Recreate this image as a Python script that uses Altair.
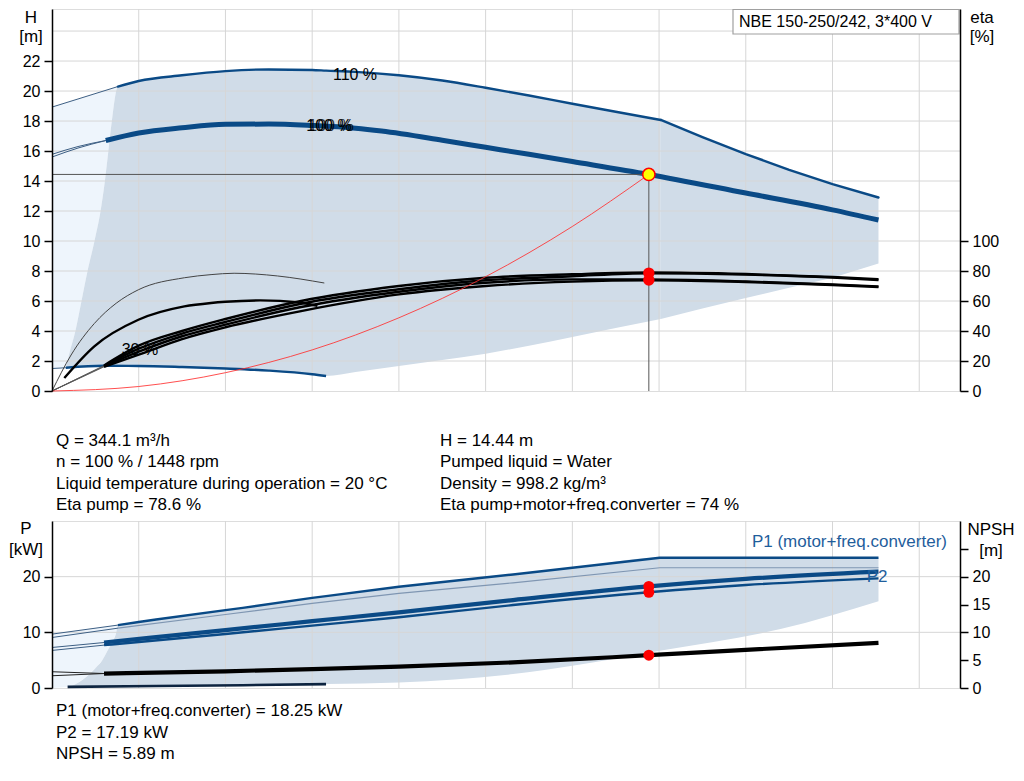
import altair as alt
import pandas as pd

FONT = "Liberation Sans, Arial, Helvetica, sans-serif"
BLUE = "#0a4a86"
LBLUE = "#1f5e9c"
THIN = "#3d5f84"
FILL = "#d0dce8"
LIGHT = "#eef5fc"
GRID = "#d6d6d6"

W, H_TOP, H_BOT = 908, 382, 167
QDOM = [0, 523.5]
HDOM = [0, 25.47]
PDOM = [0, 30]

# ---------------- shared ----------------
q_grid = [50, 100, 150, 200, 250, 300, 350, 400, 450, 500]
q_ticks = [0, 50, 100, 150, 200, 250, 300, 350, 400, 450, 500]

# ---------------- top panel: H [m] ----------------
h_grid = [2, 4, 6, 8, 10, 12, 14, 16, 18, 20, 22, 24]
h_ticks = [0, 2, 4, 6, 8, 10, 12, 14, 16, 18, 20, 22]
eta_tick_h = [0, 2, 4, 6, 8, 10]

q110_thin = [0, 38]
h110_thin = [18.93, 20.3]
# 110 % curve, up to the power-limit kink
q110a = [38, 50, 75, 100, 125, 150, 158, 175, 200, 225, 250, 275, 300, 325, 351]
h110a = [20.3, 20.67, 21.05, 21.33, 21.44, 21.4, 21.36, 21.28, 21.05, 20.7, 20.22, 19.7, 19.15, 18.62, 18.07]
h_lowa = [1.68, 1.67, 1.6, 1.5, 1.36, 1.12, 1.0, 1.27, 1.67, 2.07, 2.49, 3.02, 3.6, 4.2, 4.8]
# 110 % curve, power limited part
q110b = [351, 375, 400, 425, 450, 476.5]
h110b = [18.07, 16.93, 15.8, 14.75, 13.8, 12.9]
h_lowb = [4.8, 5.5, 6.2, 6.88, 7.55, 8.5]

q100_thin = [0, 15, 31]
h100_thin_a = [15.78, 16.3, 16.7]
h100_thin_b = [15.6, 16.2, 16.7]
q100 = [31, 50, 75, 100, 125, 150, 175, 190, 225, 250, 275, 300, 344.1, 400, 450, 476.5]
h100 = [16.7, 17.2, 17.55, 17.78, 17.8, 17.7, 17.52, 17.33, 16.72, 16.25, 15.78, 15.3, 14.44, 13.2, 12.08, 11.4]

q30_thin = [0, 8]
h30_thin = [1.5, 1.55]
q30 = [8, 30, 50, 75, 100, 125, 150, 158]
h30 = [1.55, 1.68, 1.67, 1.6, 1.5, 1.36, 1.12, 1.0]

q_edge = [8, 10, 13.5, 17, 20.5, 24.5, 28, 30.5, 32.5, 34.5, 37.5]
h_edge = [1.55, 2.5, 4.0, 6.0, 8.0, 10.0, 12.0, 14.0, 16.0, 18.0, 20.2]
h_edge_low = [1.55, 1.58, 1.6, 1.62, 1.64, 1.66, 1.68, 1.68, 1.68, 1.68, 1.68]
q_light = [0, 8, 10, 13.5, 17, 20.5, 24.5, 28, 30.5, 32.5, 34.5, 37.5, 38]
h_light_lo = [1.5, 1.55, 2.5, 4.0, 6.0, 8.0, 10.0, 12.0, 14.0, 16.0, 18.0, 20.2, 20.3]
h_light_hi = [18.93, 19.22, 19.29, 19.42, 19.54, 19.67, 19.81, 19.94, 20.03, 20.1, 20.17, 20.28, 20.3]

# efficiency curves [%]
q_eta_thin = [0, 30]
eta_thin_ends = [17.0, 16.7, 16.4, 16.1]
q_eta = [30, 50, 75, 100, 143.6, 200, 250, 300, 344.1, 400, 450, 476.5]
eta_a = [17.0, 30.2, 40.0, 48.0, 60.0, 70.0, 75.5, 77.8, 79.0, 78.0, 76.0, 74.5]
eta_b = [16.7, 28.2, 38.3, 46.0, 58.2, 67.8, 73.8, 76.5, 78.5, 77.6, 75.6, 74.0]
eta_c = [16.4, 26.2, 36.5, 44.2, 56.0, 66.2, 72.2, 74.4, 74.3, 73.0, 71.0, 69.7]
eta_d = [16.1, 24.2, 34.6, 42.5, 53.3, 64.4, 70.0, 72.9, 73.8, 72.7, 70.7, 69.3]
q_eta_low = [0, 11, 24.4, 37, 49.8, 76.3, 91.7, 105, 130, 157]
eta_low = [0, 24, 45, 58.5, 67.5, 75.5, 77.6, 78.5, 76.7, 72]
q_eta_mid = [7.1, 24.4, 49.8, 76.3, 91.7, 100, 120, 143, 153]
eta_mid = [8.7, 29.8, 47.5, 56.4, 58.7, 59.5, 60.4, 59, 56.7]

q_sys = [0, 50, 100, 150, 200, 250, 300, 344.1]
h_sys = [0, 0.3, 1.22, 2.74, 4.88, 7.62, 10.97, 14.44]

Q_DUTY, H_DUTY = 344.1, 14.44
ETA_PUMP, ETA_TOTAL = 78.6, 74.0
P1_DUTY, P2_DUTY, NPSH_DUTY = 18.25, 17.19, 5.89

top_labels = ["110 %", "100 %", "30 %"]
top_label_q = [174.7, 159.7, 50.7]
top_label_h = [21.07, 17.67, 2.73]

# ---------------- bottom panel: P [kW], NPSH [m] ----------------
p_grid = [10, 20]
p_ticks = [0, 10, 20]
npsh_ticks = [0, 5, 10, 15, 20, 25]

qp110_thin = [0, 38]
p1_110_thin = [9.68, 11.3]
p2_110_thin = [9.07, 10.75]
qp110 = [38, 50, 60, 100, 110, 150, 158, 200, 265.8, 300, 350.4, 420, 476.5]
p1_110 = [11.3, 11.85, 12.3, 14.0, 14.4, 16.2, 16.5, 18.2, 20.4, 21.6, 23.4, 23.4, 23.4]
p_low = [0.33, 0.34, 0.35, 0.47, 0.5, 0.64, 0.7, 1.0, 2.5, 4.0, 6.7, 10.6, 15.6]
qp2_110 = [38, 100, 150, 200, 265.8, 350.4, 476.5]
p2_110 = [10.75, 13.2, 15.2, 17.0, 18.9, 21.6, 21.6]

qp100_thin = [0, 30]
p1_100_thin = [7.28, 8.17]
p2_100_thin = [6.75, 7.7]
qp100 = [30, 100, 150, 200, 265.8, 344.1, 400, 476.5]
p1_100 = [8.17, 10.4, 12.0, 13.6, 15.8, 18.25, 19.6, 20.9]
p2_100 = [7.7, 9.7, 11.2, 12.7, 14.9, 17.19, 18.5, 19.7]

qn_thin = [0, 30]
npsh_thin_a = [2.92, 2.6]
npsh_thin_b = [2.2, 2.6]
qn = [30, 100, 150, 200, 265.8, 344.1, 400, 476.5]
npsh = [2.6, 3.0, 3.4, 3.85, 4.6, 5.89, 6.85, 8.1]

qp30 = [9, 60, 110, 158]
p30 = [0.2, 0.35, 0.5, 0.7]

qp_edge = [9, 13, 19, 25.4, 29, 32, 35, 37]
p_edge = [0.2, 0.6, 1.8, 3.7, 5.0, 6.7, 8.4, 9.9]
p_edge_low = [0.2, 0.22, 0.25, 0.28, 0.3, 0.31, 0.32, 0.33]
qp_light = [0, 9, 13, 19, 25.4, 29, 32, 35, 37, 38]
p_light_lo = [0, 0.2, 0.6, 1.8, 3.7, 5.0, 6.7, 8.4, 9.9, 11.3]
p_light_hi = [9.68, 10.06, 10.23, 10.49, 10.76, 10.92, 11.04, 11.17, 11.26, 11.3]

bot_labels = ["P1 (motor+freq.converter)", "P2"]
bot_label_q = [516, 475.7]
bot_label_p = [26.2, 19.95]

# ---------------- texts ----------------
title_text = "NBE 150-250/242, 3*400 V"
info_left = ["Q = 344.1 m³/h", "n = 100 % / 1448 rpm",
             "Liquid temperature during operation = 20 °C", "Eta pump = 78.6 %"]
info_right = ["H = 14.44 m", "Pumped liquid = Water", "Density = 998.2 kg/m³",
              "Eta pump+motor+freq.converter = 74 %"]
info_bottom = ["P1 (motor+freq.converter) = 18.25 kW", "P2 = 17.19 kW", "NPSH = 5.89 m"]


# ================= helpers =================
def xenc(axis=None):
    return alt.X("q:Q", scale=alt.Scale(domain=QDOM, nice=False, zero=False), axis=axis)


def yenc(dom, axis=None, field="v"):
    return alt.Y(f"{field}:Q", scale=alt.Scale(domain=dom, nice=False, zero=False), axis=axis)


def line(q, v, dom, color, width, interp="monotone", opacity=1.0, scale_div=None, cap="butt"):
    df = pd.DataFrame({"q": q, "v": v})
    ch = alt.Chart(df)
    if scale_div:
        ch = ch.transform_calculate(v=f"datum.v / {scale_div}")
    return ch.mark_line(color=color, strokeWidth=width, interpolate=interp,
                        opacity=opacity, strokeCap=cap).encode(x=xenc(), y=yenc(dom))


def band(q, lo, hi, dom, color, interp="monotone"):
    df = pd.DataFrame({"q": q, "v": lo, "v2": hi})
    return alt.Chart(df).mark_area(color=color, interpolate=interp, opacity=1).encode(
        x=xenc(), y=yenc(dom), y2="v2:Q")


def ptext(lines, x, y0, dy, size=17, color="black"):
    out = []
    for i, t in enumerate(lines):
        out.append(alt.Chart(pd.DataFrame({"t": [t]})).mark_text(
            align="left", baseline="middle", fontSize=size, font=FONT, color=color
        ).encode(x=alt.value(x), y=alt.value(y0 + dy * i), text="t:N"))
    return out


def ctext(t, x, y, size=16, align="center"):
    return alt.Chart(pd.DataFrame({"t": [t]})).mark_text(
        align=align, baseline="middle", fontSize=size, font=FONT, color="black"
    ).encode(x=alt.value(x), y=alt.value(y), text="t:N")


axis_common = dict(title=None, grid=False, domainColor="black", domainWidth=1.5,
                   tickColor="black", tickWidth=1.5, labelFontSize=16, labelColor="black",
                   labelFont=FONT, zindex=1, labelFlush=False, labelOverlap=False)

ax_q_top = alt.Axis(orient="bottom", values=q_ticks, tickSize=7, labelPadding=3,
                    labelExpr="datum.value == 500 ? 'Q [m³/h]' : datum.label", **axis_common)
ax_h = alt.Axis(orient="left", values=h_ticks, tickSize=8, labelPadding=4, **axis_common)
ax_eta = alt.Axis(orient="right", values=eta_tick_h, tickSize=8, labelPadding=4,
                  labelExpr="'' + round(datum.value * 10)", **axis_common)
ax_q_bot = alt.Axis(orient="bottom", values=q_ticks, labels=False, ticks=False, title=None,
                    grid=False, domainColor="#9a9a9a", domainWidth=1, zindex=1)
ax_p = alt.Axis(orient="left", values=p_ticks, tickSize=8, labelPadding=4, **axis_common)
ax_npsh = alt.Axis(orient="right", values=npsh_ticks, tickSize=8, labelPadding=4,
                   labelExpr="datum.value == 25 ? '' : datum.label", **axis_common)

# ================= top chart =================
top_layers = []
top_layers.append(band(q_light, h_light_lo, h_light_hi, HDOM, LIGHT))
top_layers.append(band(q_edge + q110a, h_edge_low + h_lowa, h_edge + h110a, HDOM, FILL))
top_layers.append(band(q110b, h_lowb, h110b, HDOM, FILL, "linear"))
top_layers.append(alt.Chart(pd.DataFrame({"q": q_grid})).mark_rule(color=GRID, strokeWidth=1)
                  .encode(x=xenc(ax_q_top)))
top_layers.append(alt.Chart(pd.DataFrame({"v": h_grid})).mark_rule(color=GRID, strokeWidth=1)
                  .encode(y=yenc(HDOM, ax_h)))
# H curves
top_layers.append(line(q110_thin, h110_thin, HDOM, THIN, 1))
top_layers.append(line(q110a, h110a, HDOM, BLUE, 2.4, cap="round"))
top_layers.append(line(q110b, h110b, HDOM, BLUE, 2.4, "linear", cap="round"))
top_layers.append(line(q100_thin, h100_thin_a, HDOM, THIN, 1))
top_layers.append(line(q100_thin, h100_thin_b, HDOM, THIN, 1))
top_layers.append(line(q100, h100, HDOM, BLUE, 5))
top_layers.append(line(q30_thin, h30_thin, HDOM, THIN, 1))
top_layers.append(line(q30, h30, HDOM, BLUE, 2.4))
# duty lines
top_layers.append(line([0, Q_DUTY], [H_DUTY, H_DUTY], HDOM, "#555555", 1, "linear"))
top_layers.append(line([Q_DUTY, Q_DUTY], [0, H_DUTY], HDOM, "#555555", 1, "linear"))
# efficiency curves
for e in eta_thin_ends:
    top_layers.append(line(q_eta_thin, [0, e], HDOM, "#555555", 0.8, "linear", scale_div=10))
top_layers.append(line(q_eta_low, eta_low, HDOM, "#444444", 1, scale_div=10))
top_layers.append(line(q_eta_mid, eta_mid, HDOM, "black", 2.4, scale_div=10))
for arr in (eta_a, eta_b, eta_c, eta_d):
    top_layers.append(line(q_eta, arr, HDOM, "black", 2.4, scale_div=10))
# system curve
top_layers.append(line(q_sys, h_sys, HDOM, "#ff3030", 1, opacity=0.85))
# eta duty points (carry the eta axis)
top_layers.append(alt.Chart(pd.DataFrame({"q": [Q_DUTY, Q_DUTY], "v": [ETA_PUMP, ETA_TOTAL]}))
                  .transform_calculate(v="datum.v / 10")
                  .mark_point(filled=True, color="#ff0000", size=130, opacity=1)
                  .encode(x=xenc(), y=yenc(HDOM, ax_eta)))
# duty point
top_layers.append(alt.Chart(pd.DataFrame({"q": [Q_DUTY], "v": [H_DUTY]}))
                  .mark_point(filled=True, fill="#ffff00", stroke="#ff0000", strokeWidth=1.5,
                              size=150, opacity=1)
                  .encode(x=xenc(), y=yenc(HDOM)))
# curve labels
lab = pd.DataFrame({"q": top_label_q, "v": top_label_h, "t": top_labels})
top_layers.append(alt.Chart(lab).mark_text(fontSize=16, font=FONT, color="black", baseline="middle")
                  .encode(x=xenc(), y=yenc(HDOM), text="t:N"))
top_layers.append(alt.Chart(lab.iloc[[1]]).mark_text(fontSize=16, font=FONT, color="black",
                                                     baseline="middle", dx=2, opacity=0.8)
                  .encode(x=xenc(), y=yenc(HDOM), text="t:N"))
# title box
top_layers.append(alt.Chart(pd.DataFrame({"t": [title_text]})).mark_rect(
    fill="white", stroke="#a0a0a0", strokeWidth=1.2)
    .encode(x=alt.value(681), x2=alt.value(907), y=alt.value(0.5), y2=alt.value(25)))
top_layers.append(ctext(title_text, 687, 12.5, 16, "left"))
# axis titles
top_layers.append(ctext("H", -21, 9, 17))
top_layers.append(ctext("[m]", -21, 28, 17))
top_layers.append(ctext("eta", 930, 9, 17))
top_layers.append(ctext("[%]", 930, 28, 17))
# info text
top_layers += ptext(info_left, 4, 432, 21.3)
top_layers += ptext(info_right, 388, 432, 21.3)

top = alt.layer(*top_layers).properties(width=W, height=H_TOP).resolve_axis(y="independent")

# ================= bottom chart =================
bl = []
bl.append(band(qp_light, p_light_lo, p_light_hi, PDOM, LIGHT, "linear"))
bl.append(band(qp_edge + qp110, p_edge_low + p_low, p_edge + p1_110, PDOM, FILL, "monotone"))
bl.append(alt.Chart(pd.DataFrame({"q": q_grid})).mark_rule(color=GRID, strokeWidth=1)
          .encode(x=xenc(ax_q_bot)))
bl.append(alt.Chart(pd.DataFrame({"v": p_grid})).mark_rule(color=GRID, strokeWidth=1)
          .encode(y=yenc(PDOM, ax_p)))
bl.append(line(qp110_thin, p1_110_thin, PDOM, THIN, 1, "linear"))
bl.append(line(qp110_thin, p2_110_thin, PDOM, THIN, 1, "linear"))
bl.append(line(qp2_110, p2_110, PDOM, "#7f96b2", 1.2, "linear"))
bl.append(line(qp110, p1_110, PDOM, BLUE, 2.4, "linear"))
bl.append(line(qp100_thin, p1_100_thin, PDOM, THIN, 1, "linear"))
bl.append(line(qp100_thin, p2_100_thin, PDOM, THIN, 1, "linear"))
bl.append(line(qp100, p2_100, PDOM, BLUE, 2.4, "monotone"))
bl.append(line(qp100, p1_100, PDOM, BLUE, 4.2, "monotone"))
bl.append(line(qn_thin, npsh_thin_a, PDOM, "#222222", 1, "linear"))
bl.append(line(qn_thin, npsh_thin_b, PDOM, "#222222", 1, "linear"))
bl.append(line(qn, npsh, PDOM, "black", 4.2, "monotone"))
bl.append(line(qp30, p30, PDOM, "#0d2440", 2.6, "linear"))
bl.append(alt.Chart(pd.DataFrame({"q": [Q_DUTY] * 3, "v": [P1_DUTY, P2_DUTY, NPSH_DUTY]}))
          .mark_point(filled=True, color="#ff0000", size=120, opacity=1)
          .encode(x=xenc(), y=yenc(PDOM, ax_npsh)))
blab = pd.DataFrame({"q": bot_label_q, "v": bot_label_p, "t": bot_labels})
bl.append(alt.Chart(blab.iloc[[0]]).mark_text(fontSize=17, font=FONT, color=LBLUE, align="right",
                                               baseline="middle")
          .encode(x=xenc(), y=yenc(PDOM), text="t:N"))
bl.append(alt.Chart(blab.iloc[[1]]).mark_text(fontSize=17, font=FONT, color=LBLUE, align="center",
                                               baseline="middle")
          .encode(x=xenc(), y=yenc(PDOM), text="t:N"))
bl.append(ctext("P", -26, 8, 17))
bl.append(ctext("[kW]", -26, 29, 17))
bl.append(ctext("NPSH", 939, 9, 17))
bl.append(ctext("[m]", 939, 30, 17))
bl += ptext(info_bottom, 4, 190, 21.5)

bottom = alt.layer(*bl).properties(width=W, height=H_BOT).resolve_axis(y="independent")

chart = alt.vconcat(top, bottom, spacing=130, bounds="flush").properties(
    padding={"left": 0, "top": 0, "right": 0, "bottom": 0}
).configure_view(stroke="black", strokeWidth=1).configure(font=FONT)

chart.save("out.html", embed_options={"renderer": "svg", "actions": False})
